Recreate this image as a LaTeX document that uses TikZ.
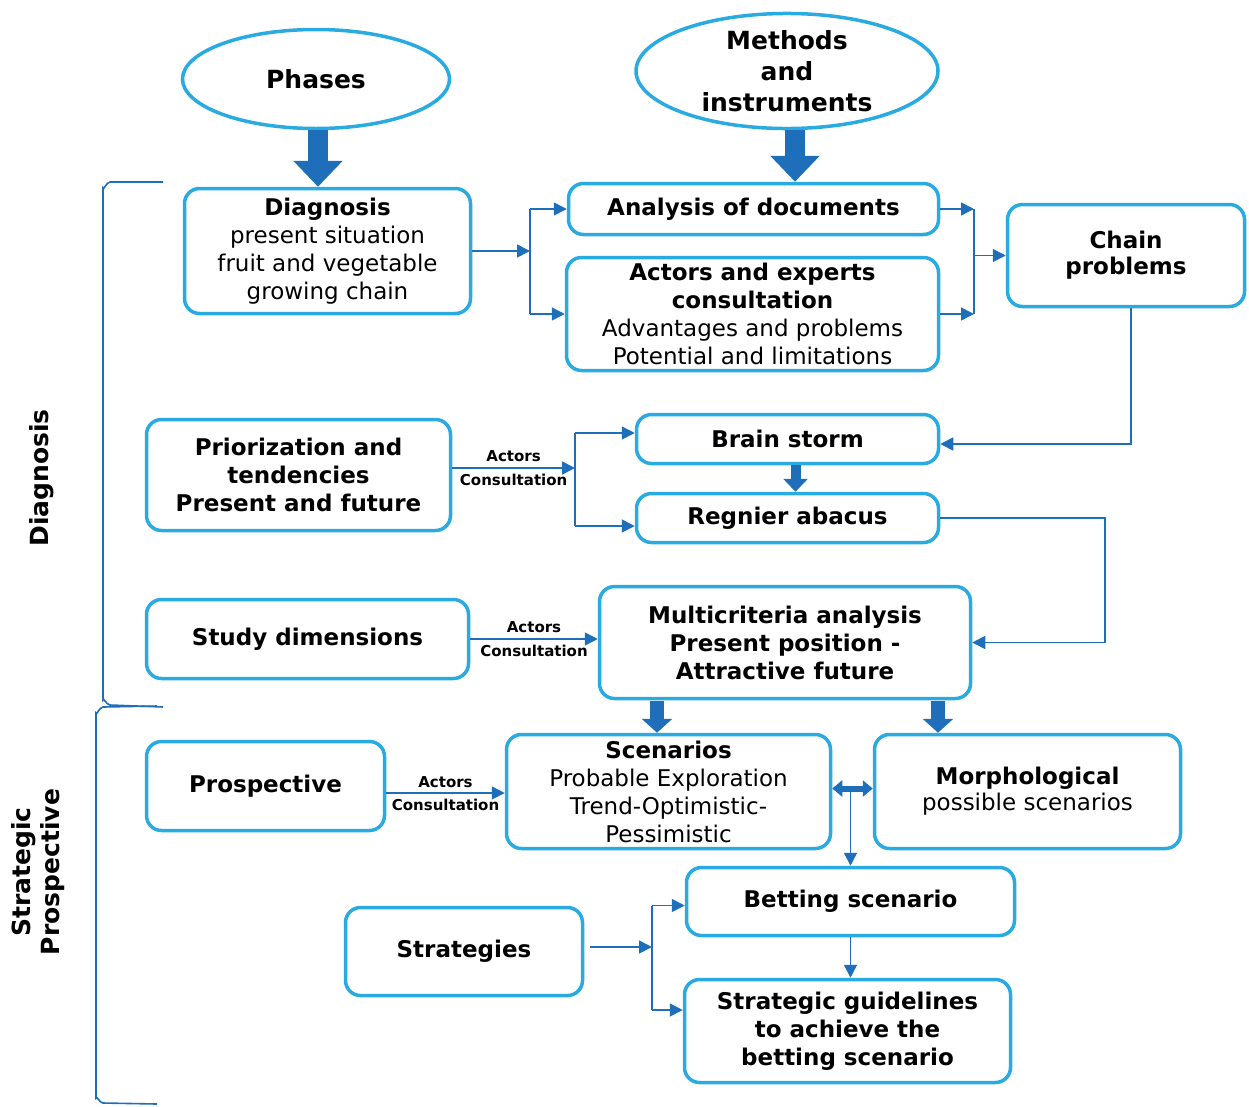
\documentclass[tikz,border=0pt]{standalone}
\usepackage{fontspec}
\setmainfont{DejaVu Sans}
\usetikzlibrary{shapes.geometric,arrows.meta,calc}
\definecolor{lightb}{RGB}{41,171,226}
\definecolor{darkb}{RGB}{31,110,186}
\tikzset{
  box/.style={draw=lightb, line width=3.5pt, rounded corners=15pt, align=center, inner sep=0pt, fill=white,
    font=\fontsize{23}{28}\selectfont},
  oval/.style={draw=lightb, line width=3.5pt, ellipse, align=center, inner sep=0pt,
    font=\fontsize{25}{31}\selectfont\bfseries},
  conn/.style={draw=darkb, line width=1.6pt, -{Triangle[width=13pt,length=13pt]}},
  plain/.style={draw=darkb, line width=1.6pt},
  bigarrow/.style={draw=darkb, line width=20pt, -{Triangle[width=48pt,length=26pt]}},
  smallarrow/.style={draw=darkb, line width=10pt, -{Triangle[width=24pt,length=13pt]}},
  midarrow/.style={draw=darkb, line width=14pt, -{Triangle[width=30pt,length=14pt]}},
  dblarrow/.style={draw=darkb, line width=6pt, {Triangle[width=16pt,length=10pt]}-{Triangle[width=16pt,length=10pt]}},
  lab/.style={font=\fontsize{15}{17}\selectfont\bfseries, inner sep=5pt},
  side/.style={font=\fontsize{25}{29}\selectfont\bfseries, rotate=90, align=center},
  brk/.style={draw=darkb, line width=1.6pt}
}
\begin{document}
\begin{tikzpicture}[x=1pt,y=-1pt]
\useasboundingbox (0,0) rectangle (1249,1106);

% ovals
\node[oval, minimum width=267, minimum height=99] (ph) at (316,79) {Phases};
\node[oval, minimum width=302, minimum height=115] (me) at (787,71) {Methods\\and\\instruments};

% boxes
\node[box, minimum width=286, minimum height=125] (diag) at (327.5,251) {\textbf{Diagnosis}\\present situation\\fruit and vegetable\\growing chain};
\node[box, minimum width=370, minimum height=51] (anal) at (753.5,209) {\textbf{Analysis of documents}};
\node[box, minimum width=372, minimum height=113] (actx) at (752.5,314) {\textbf{Actors and experts}\\\textbf{consultation}\\Advantages and problems\\Potential and limitations};
\node[box, minimum width=237, minimum height=102] (chain) at (1126,255.5) {\textbf{Chain}\\[-2pt]\textbf{problems}};
\node[box, minimum width=304, minimum height=111] (prio) at (298.5,475) {\textbf{Priorization and}\\\textbf{tendencies}\\\textbf{Present and future}};
\node[box, minimum width=302, minimum height=49] (brain) at (787.5,439) {\textbf{Brain storm}};
\node[box, minimum width=302, minimum height=49] (regn) at (787.5,518) {\textbf{Regnier abacus}};
\node[box, minimum width=322, minimum height=79] (study) at (307.5,639) {\textbf{Study dimensions}};
\node[box, minimum width=371, minimum height=112] (multi) at (785,642.5) {\textbf{Multicriteria analysis}\\\textbf{Present position -}\\\textbf{Attractive future}};
\node[box, minimum width=238, minimum height=89] (prosp) at (265.5,786) {\textbf{Prospective}};
\node[box, minimum width=324, minimum height=114] (scen) at (668.5,791.5) {\textbf{Scenarios}\\Probable Exploration\\Trend-Optimistic-\\Pessimistic};
\node[box, minimum width=306, minimum height=114] (morph) at (1027.5,791.5) {\textbf{Morphological}\\[-2pt]possible scenarios};
\node[box, minimum width=328, minimum height=68] (bet) at (850.5,901.5) {\textbf{Betting scenario}};
\node[box, minimum width=237, minimum height=88] (strat) at (464,951.5) {\textbf{Strategies}};
\node[box, minimum width=326, minimum height=103] (guide) at (847.5,1031) {\textbf{Strategic guidelines}\\\textbf{to achieve the}\\\textbf{betting scenario}};

% side labels
\node[side] (sdiag) at (42,478) {Diagnosis};
\node[side] (sstrat) at (38,872) {Strategic\\Prospective};

% brackets
\draw[brk] (163,182) -- (110,182) to[out=180,in=-90] (103,188) -- (103,700) to[out=90,in=180] (110,705) -- (163,707);
\draw[brk] (157,706) -- (103,707) to[out=180,in=-90] (96,713) -- (96,1098) to[out=90,in=180] (103,1103) -- (157,1104);

% big arrows
\draw[bigarrow] ([xshift=2pt]ph.south) -- ([xshift=2pt]ph.south |- diag.north);
\draw[bigarrow] ([xshift=8pt]me.south) -- ([xshift=8pt]me.south |- anal.north);

% diagnosis -> analysis / actors
\coordinate (j1) at (530,251);
\draw[conn] (diag.east) -- (j1);
\draw[plain] (j1 |- anal.west) -- (j1 |- actx.west);
\draw[conn] (j1 |- anal.west) -- (anal.west);
\draw[conn] (j1 |- actx.west) -- (actx.west);

% analysis / actors -> chain
\coordinate (j2) at (974,255.5);
\draw[conn] (anal.east) -- (anal.east -| j2);
\draw[conn] (actx.east) -- (actx.east -| j2);
\draw[plain] (j2 |- anal.east) -- (j2 |- actx.east);
\draw[conn] (j2 |- chain.west) -- (chain.west);

% chain -> brain storm
\draw[conn] ([xshift=5pt]chain.south) |- ([yshift=-5pt]brain.east);

% priorization -> brain / regnier
\coordinate (j3) at (575,468);
\coordinate (j3a) at ($(j3 |- brain.west)+(0,-6)$);
\coordinate (j3b) at ($(j3 |- regn.west)+(0,8)$);
\draw[conn] (prio.east |- j3) -- node[lab, above] {Actors} node[lab, below] {Consultation} (j3);
\draw[plain] (j3a) -- (j3b);
\draw[conn] (j3a) -- ([yshift=6pt]brain.west);
\draw[conn] (j3b) -- ([yshift=-8pt]regn.west);

% brain -> regnier
\draw[smallarrow] ([xshift=8pt]brain.south) -- ([xshift=8pt]brain.south |- regn.north);

% regnier -> multicriteria
\draw[conn] (regn.east) -- ++(165,0) |- (multi.east);

% study -> multicriteria
\coordinate (p2) at (0,639);
\draw[conn] (study.east |- p2) -- node[lab, above] {Actors} node[lab, below] {Consultation} (multi.west |- p2);

% multicriteria -> scenarios / morphological
\coordinate (m1) at (657,701);
\coordinate (m2) at (938,701);
\draw[midarrow] (m1) -- (m1 |- scen.north);
\draw[midarrow] (m2) -- (m2 |- morph.north);

% prospective -> scenarios
\coordinate (p1) at (0,793);
\draw[conn] (prosp.east |- p1) -- node[lab, above] {Actors} node[lab, below] {Consultation} (scen.west |- p1);

% scenarios <-> morphological
\draw[dblarrow] ([yshift=3pt]scen.east) -- ([yshift=3pt]morph.west);
\coordinate (dm) at ($(scen.east)!0.45!(morph.west)+(0,-3)$);
\draw[conn] (dm) -- (dm |- bet.north);

% betting -> guidelines
\draw[conn] (bet.south -| dm) -- (dm |- guide.north);

% strategies -> betting / guidelines
\coordinate (j4) at (652,947);
\coordinate (j4a) at ($(j4 |- bet.west)+(0,4)$);
\coordinate (j4b) at ($(j4 |- guide.west)+(0,-21)$);
\draw[conn] ([xshift=6pt]strat.east |- j4) -- (j4);
\draw[plain] (j4a) -- (j4b);
\draw[conn] (j4a) -- ([yshift=-4pt]bet.west);
\draw[conn] (j4b) -- ([yshift=21pt]guide.west);
\end{tikzpicture}
\end{document}
